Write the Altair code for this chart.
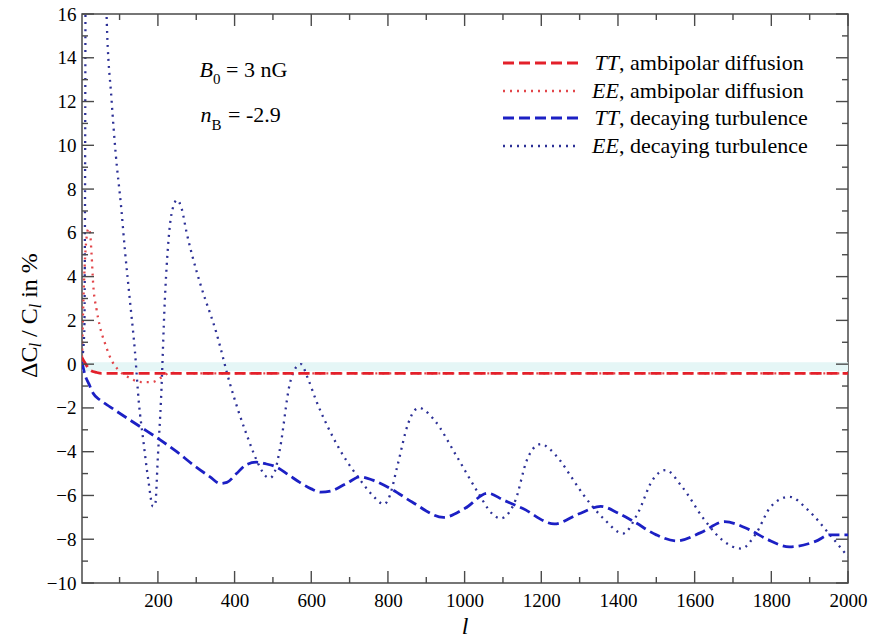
import altair as alt
import pandas as pd

SERIF = "'Liberation Serif', 'Times New Roman', Times, serif"

# plot ranges
L_DOMAIN = [2, 2000]
V_DOMAIN = [-10, 16]

# tick positions
x_major = [200, 400, 600, 800, 1000, 1200, 1400, 1600, 1800, 2000]
x_minor = [100, 300, 500, 700, 900, 1100, 1300, 1500, 1700, 1900]
y_major = [-10, -8, -6, -4, -2, 0, 2, 4, 6, 8, 10, 12, 14, 16]
y_minor = [-9, -7, -5, -3, -1, 1, 3, 5, 7, 9, 11, 13, 15]

# TT, ambipolar diffusion
tt_amb_l = [2, 10, 23, 40, 53, 100, 500, 1000, 1500, 2000]
tt_amb_v = [0.3, 0.05, -0.27, -0.38, -0.42, -0.42, -0.42, -0.42, -0.42, -0.42]

# EE, ambipolar diffusion
ee_amb_l = [2, 5, 9, 14, 19, 23, 27, 31, 40, 49, 62, 79, 97, 123, 158, 184,
            210, 231, 300, 1000, 2000]
ee_amb_v = [0.3, 2.5, 4.5, 5.8, 6.2, 6.0, 5.0, 3.7, 2.5, 1.7, 0.95, 0.18,
            -0.27, -0.6, -0.82, -0.82, -0.6, -0.4, -0.42, -0.42, -0.42]

# TT, decaying turbulence
tt_dec_l = [2, 10, 20, 31, 50, 75, 118, 162, 205, 249, 292, 336, 362, 380,
            405, 430, 457, 480, 509, 540, 570, 600, 625, 650, 692, 728, 760,
            814, 863, 945, 1000, 1061, 1100, 1152, 1234, 1297, 1355, 1400,
            1442, 1500, 1553, 1616, 1678, 1741, 1789, 1847, 1915, 1953, 2000]
tt_dec_v = [0.1, -0.5, -0.9, -1.33, -1.65, -1.95, -2.45, -2.95, -3.45, -4.0,
            -4.6, -5.15, -5.45, -5.4, -5.0, -4.6, -4.48, -4.55, -4.7, -5.05,
            -5.4, -5.7, -5.85, -5.8, -5.45, -5.15, -5.3, -5.76, -6.3, -7.0,
            -6.6, -5.9, -6.2, -6.6, -7.3, -6.85, -6.5, -6.8, -7.2, -7.8,
            -8.08, -7.7, -7.2, -7.55, -8.0, -8.35, -8.1, -7.8, -7.8]

# EE, decaying turbulence
ee_dec_l = [2, 8, 11, 13, 40, 60, 66, 79, 90, 104, 114, 127, 140, 150, 162,
            175, 187, 193, 200, 208, 218, 231, 240, 250, 262, 275, 292, 310,
            353, 388, 431, 466, 480, 492, 505, 518, 544, 560, 573, 590, 612,
            670, 728, 760, 790, 805, 824, 853, 870, 882, 895, 921, 979, 1036,
            1070, 1094, 1115, 1133, 1162, 1185, 1200, 1220, 1249, 1280, 1307,
            1365, 1413, 1452, 1490, 1524, 1567, 1625, 1673, 1722, 1760, 1799,
            1847, 1896, 1953, 2000]
ee_dec_v = [0.2, 1.5, 16.0, 40.0, 60.0, 25.0, 16.0, 12.1, 9.6, 7.2, 5.2, 2.9,
            0.6, -1.7, -3.5, -5.3, -6.5, -6.4, -4.2, -1.65, 2.9, 6.3, 7.2, 7.5,
            7.1, 6.0, 4.8, 3.7, 1.4, -0.9, -3.2, -4.7, -5.1, -5.2, -4.9, -3.9,
            -0.9, -0.15, 0.0, -0.6, -1.63, -3.77, -5.3, -6.0, -6.4, -6.0, -4.7,
            -2.7, -2.1, -2.0, -2.1, -2.55, -4.2, -5.9, -6.8, -7.05, -6.8, -6.2,
            -4.4, -3.75, -3.65, -3.85, -4.4, -5.2, -5.9, -7.1, -7.74, -6.8,
            -5.3, -4.84, -5.6, -7.1, -8.05, -8.43, -7.74, -6.5, -6.06, -6.67,
            -7.8, -8.8]

# faint band under the ambipolar TT curve
band_l = [2, 2000]
band_v = [-0.12, -0.12]

W, H = 766, 569

x_scale = alt.Scale(domain=L_DOMAIN, nice=False, zero=False)
y_scale = alt.Scale(domain=V_DOMAIN, nice=False, zero=False)

x_axis = alt.Axis(values=x_major, format="d", ticks=False, domain=False,
                  grid=False, title=None, labelFont=SERIF, labelFontSize=19,
                  labelColor="black", labelPadding=8, labelFlush=False,
                  labelOverlap=False)
y_axis = alt.Axis(values=y_major, format="d", ticks=False, domain=False,
                  grid=False, title=None, labelFont=SERIF, labelFontSize=19,
                  labelColor="black", labelPadding=6, labelFlush=False,
                  labelOverlap=False)


def xq(field):
    return alt.X(f"{field}:Q", scale=x_scale, axis=x_axis)


def yq(field):
    return alt.Y(f"{field}:Q", scale=y_scale, axis=y_axis)


def curve(ls, vs, color, dash, width):
    df = pd.DataFrame({"l": ls, "v": vs})
    return alt.Chart(df).mark_line(
        color=color, strokeDash=dash, strokeWidth=width, clip=True,
        interpolate="monotone", strokeCap="butt"
    ).encode(x=xq("l"), y=yq("v"))


band = alt.Chart(pd.DataFrame({"l": band_l, "v": band_v})).mark_line(
    color="#e5f6f6", strokeWidth=9, clip=True
).encode(x=xq("l"), y=yq("v"))

RED_DASH = "#e3202a"
RED_DOT = "#e2464a"
BLUE_DASH = "#1c20c4"
BLUE_DOT = "#2c3096"

ee_dec = curve(ee_dec_l, ee_dec_v, BLUE_DOT, [2, 5], 2.3)
tt_dec = curve(tt_dec_l, tt_dec_v, BLUE_DASH, [11, 5], 2.8)
ee_amb = curve(ee_amb_l, ee_amb_v, RED_DOT, [2, 5], 2.3)
tt_amb = curve(tt_amb_l, tt_amb_v, RED_DASH, [11, 5], 2.8)

# inward ticks on all four sides
TICK = "#4a4a4a"


def xticks(vals, length):
    df = pd.DataFrame({"l": vals})
    bottom = alt.Chart(df).mark_rule(color=TICK, strokeWidth=1.4).encode(
        x=xq("l"), y=alt.value(H), y2=alt.value(H - length))
    top = alt.Chart(df).mark_rule(color=TICK, strokeWidth=1.4).encode(
        x=xq("l"), y=alt.value(0), y2=alt.value(length))
    return bottom + top


def yticks(vals, length):
    df = pd.DataFrame({"v": vals})
    left = alt.Chart(df).mark_rule(color=TICK, strokeWidth=1.4).encode(
        y=yq("v"), x=alt.value(0), x2=alt.value(length))
    right = alt.Chart(df).mark_rule(color=TICK, strokeWidth=1.4).encode(
        y=yq("v"), x=alt.value(W), x2=alt.value(W - length))
    return left + right


ticks = xticks(x_major, 12) + xticks(x_minor, 6) + yticks(y_major, 12) + yticks(y_minor, 6)

anchor = pd.DataFrame({"a": [0]})


def txt(s, x, y, size, style="normal", align="left", angle=0):
    return alt.Chart(anchor).mark_text(
        text=s, font=SERIF, fontSize=size, fontStyle=style, align=align,
        baseline="alphabetic", angle=angle, color="black"
    ).encode(x=alt.value(x), y=alt.value(y))


# parameter annotation
notes = (
    txt("B", 131, 63, 22, "italic", "right")
    + txt("0", 131, 70, 15)
    + txt("= 3 nG", 144, 63, 22)
    + txt("n", 129.5, 108, 22, "italic", "right")
    + txt("B", 129.5, 116, 15)
    + txt("= -2.9", 146, 108, 22)
)

# legend
legend_rows = [
    ("TT", ", ambipolar diffusion", RED_DASH, [11, 5], 2.8),
    ("EE", ", ambipolar diffusion", RED_DOT, [2, 5], 2.3),
    ("TT", ", decaying turbulence", BLUE_DASH, [11, 5], 2.8),
    ("EE", ", decaying turbulence", BLUE_DOT, [2, 5], 2.3),
]
legend_y = [49, 77, 104, 132]
legend = None
for (code, rest, color, dash, width), ly in zip(legend_rows, legend_y):
    sample = alt.Chart(anchor).mark_rule(
        color=color, strokeDash=dash, strokeWidth=width
    ).encode(x=alt.value(421), x2=alt.value(497), y=alt.value(ly))
    row = sample + txt(code, 537, ly + 7, 22, "italic", "right") + txt(rest, 537, ly + 7, 22)
    legend = row if legend is None else legend + row

# axis titles
x_title = txt("l", 383, 620, 24, "italic", "center")
y_title = (
    txt("ΔC", -45, 364, 24, angle=270)
    + txt("l", -41, 333.3, 16, "italic", angle=270)
    + txt("/ C", -45, 322.9, 24, angle=270)
    + txt("l", -41, 294.2, 16, "italic", angle=270)
    + txt("in %", -45, 283.8, 24, angle=270)
)

chart = alt.layer(
    band, ee_dec, tt_dec, ee_amb, tt_amb, ticks, notes, legend,
    x_title, y_title
).properties(
    width=W, height=H,
    padding={"left": 82, "top": 14, "right": 33, "bottom": 55},
    autosize=alt.AutoSizeParams(type="none"),
    background="white",
).configure_view(stroke="#4a4a4a", strokeWidth=1.5)

chart.save("out.html", embed_options={"renderer": "svg", "actions": False})
